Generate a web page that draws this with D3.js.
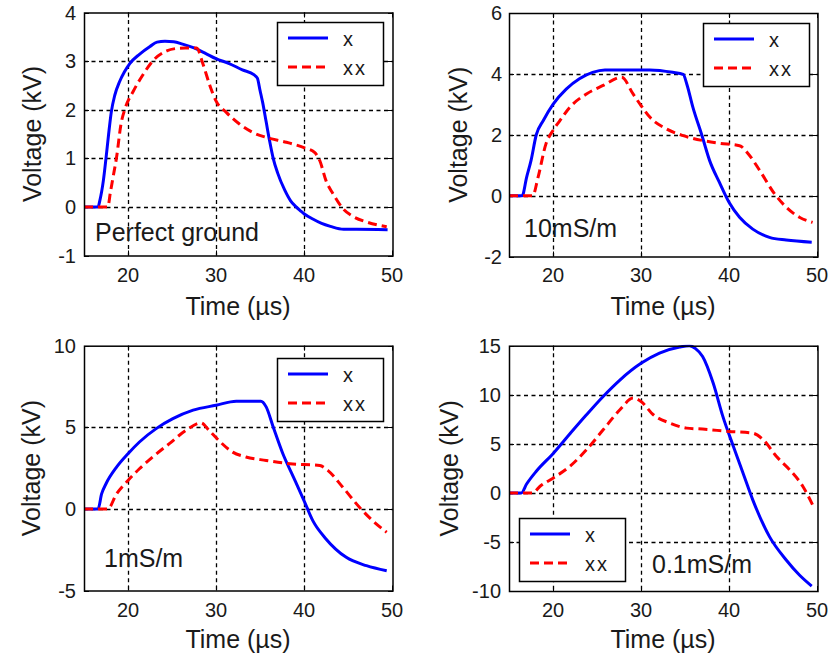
<!DOCTYPE html>
<html>
<head>
<meta charset="utf-8">
<script src="https://cdn.jsdelivr.net/npm/d3@7"></script>
<style>
  html, body { margin: 0; padding: 0; background: #fff; }
  svg { display: block; }
  text { font-family: "Liberation Sans", Arial, sans-serif; fill: #1a1a1a; }
</style>
</head>
<body>
<svg id="chart" width="840" height="657"></svg>
<script>
// ---------------- data ----------------
const seriesNames = ["x", "xx"];
const xTicks = [20, 30, 40, 50];
const xDomain = [15, 50];
const xLabel = "Time (µs)";
const yLabel = "Voltage (kV)";
const annotations = ["Perfect ground", "10mS/m", "1mS/m", "0.1mS/m"];

const yDomainP1 = [-1, 4];  const yTicksP1 = [-1, 0, 1, 2, 3, 4];
const yDomainP2 = [-2, 6];  const yTicksP2 = [-2, 0, 2, 4, 6];
const yDomainP3 = [-5, 10]; const yTicksP3 = [-5, 0, 5, 10];
const yDomainP4 = [-10, 15]; const yTicksP4 = [-10, -5, 0, 5, 10, 15];

// Panel 1: Perfect ground
const p1xT = [15, 16.6, 16.8, 17.2, 17.5, 17.8, 18.1, 18.5, 19.05, 19.6, 20.2, 21.3, 22.5, 23.3, 24.2, 25.2, 26.2, 27.5, 28.8, 30, 31.5, 33, 34.3, 34.7, 35.0, 35.3, 35.7, 36.1, 36.5, 37.0, 37.8, 38.5, 39.1, 39.6, 40, 41, 42, 43, 44.5, 46, 49.5];
const p1xV = [0, 0, 0.13, 0.54, 1.0, 1.5, 1.95, 2.3, 2.58, 2.78, 2.95, 3.14, 3.3, 3.39, 3.41, 3.4, 3.35, 3.27, 3.16, 3.05, 2.95, 2.82, 2.72, 2.65, 2.4, 2.15, 1.75, 1.35, 1.0, 0.7, 0.35, 0.12, 0.0, -0.08, -0.14, -0.25, -0.34, -0.4, -0.46, -0.46, -0.47];
const p1xxT = [15, 17.7, 18.0, 18.3, 18.7, 19.2, 19.7, 20.6, 21.7, 22.8, 24.4, 25.5, 26.5, 27.8, 28.5, 29.3, 30, 31.2, 32.7, 34.2, 35.7, 38, 40, 41.2, 41.8, 42.5, 43.3, 44.4, 45.6, 47.1, 49.4];
const p1xxV = [0, 0, 0.3, 0.61, 1.02, 1.7, 2.04, 2.38, 2.72, 3.0, 3.21, 3.26, 3.27, 3.27, 2.95, 2.5, 2.18, 1.94, 1.7, 1.53, 1.43, 1.33, 1.22, 1.12, 0.95, 0.54, 0.27, -0.03, -0.2, -0.31, -0.41];

// Panel 2: 10mS/m
const p2xT = [15, 16.5, 17, 17.5, 18.1, 18.9, 20, 21.5, 23, 24.5, 25.9, 31, 33.6, 34.8, 35.2, 35.9, 36.9, 37.8, 38.9, 40, 41.2, 42.7, 44.6, 46.5, 49.4];
const p2xV = [0, 0, 0.6, 1.15, 2.0, 2.47, 3.0, 3.5, 3.84, 4.05, 4.13, 4.13, 4.05, 3.98, 3.67, 2.9, 2.0, 1.15, 0.44, -0.22, -0.71, -1.1, -1.37, -1.46, -1.53];
const p2xxT = [15, 17.7, 18.3, 19.2, 20, 20.8, 21.9, 23.8, 25.7, 27.8, 29.1, 30, 31, 32.9, 34.8, 37, 38.9, 41.2, 42.2, 43.5, 45.2, 46.5, 48, 49.5];
const p2xxV = [0, 0, 0.6, 1.7, 2.14, 2.47, 2.9, 3.34, 3.62, 3.89, 3.34, 2.96, 2.58, 2.19, 1.97, 1.81, 1.72, 1.64, 1.37, 0.82, 0.05, -0.38, -0.71, -0.88];

// Panel 3: 1mS/m
const p3xT = [15, 16.6, 17, 17.5, 18.7, 20, 21.3, 23.2, 25.1, 27.4, 30, 32.3, 35.1, 35.7, 36.5, 37.6, 38.8, 40, 41, 42.5, 44.8, 47.1, 49.4];
const p3xV = [0, 0, 0.92, 1.54, 2.56, 3.38, 4.1, 4.92, 5.53, 6.05, 6.35, 6.6, 6.6, 6.25, 5.02, 3.38, 1.95, 0.51, -0.72, -1.84, -2.97, -3.48, -3.79];
const p3xxT = [15, 17.7, 18.7, 20, 21.3, 22.8, 24.7, 26.6, 28.3, 29.2, 30.3, 31.9, 33.4, 35.7, 38.4, 41.8, 42.7, 44.4, 46.3, 47.8, 49.4];
const p3xxV = [0, 0, 0.92, 1.74, 2.46, 3.18, 4.0, 4.82, 5.27, 4.82, 4.2, 3.48, 3.18, 2.97, 2.77, 2.66, 2.36, 1.33, 0.1, -0.72, -1.43];

// Panel 4: 0.1mS/m
const p4xT = [15, 16.4, 17, 18.1, 20, 21.9, 23.8, 25.7, 27.6, 30, 32.1, 34.4, 35.5, 36.2, 37, 38.2, 39.3, 40.5, 41.6, 42.7, 44.6, 46.5, 48, 49.4];
const p4xV = [0, 0, 0.9, 2.2, 4.0, 6.0, 7.96, 9.83, 11.5, 13.2, 14.25, 14.86, 15.0, 14.7, 13.9, 11.2, 7.8, 4.73, 2.0, -0.71, -4.46, -6.84, -8.37, -9.5];
const p4xxT = [15, 17.7, 18.5, 20, 21.9, 23.8, 25.7, 27.6, 29.1, 30, 31.4, 33.3, 35.2, 37, 40, 42.7, 43.9, 45.4, 46.9, 48.4, 49.5];
const p4xxV = [0, 0, 0.65, 1.5, 2.69, 4.39, 6.43, 8.47, 9.66, 9.32, 7.96, 7.11, 6.6, 6.5, 6.26, 6.09, 5.4, 3.7, 2.35, 0.65, -1.22];

// ---------------- layout (positions/styles) ----------------
const panels = [
  { left: 84, right: 392, top: 12.5, bottom: 255.5, yDomain: yDomainP1, yTicks: yTicksP1,
    series: [[p1xT, p1xV], [p1xxT, p1xxV]], annot: annotations[0],
    annotX: 95, annotY: 241, legX: 277, legY: 22, yLabX: 41, tickRight: 76, xTickBase: 282, xLabBase: 315 },
  { left: 509, right: 817, top: 13, bottom: 256.5, yDomain: yDomainP2, yTicks: yTicksP2,
    series: [[p2xT, p2xV], [p2xxT, p2xxV]], annot: annotations[1],
    annotX: 524, annotY: 237, legX: 703, legY: 23, yLabX: 467, tickRight: 502, xTickBase: 282, xLabBase: 315 },
  { left: 84, right: 392, top: 345.7, bottom: 590.5, yDomain: yDomainP3, yTicks: yTicksP3,
    series: [[p3xT, p3xV], [p3xxT, p3xxV]], annot: annotations[2],
    annotX: 104, annotY: 567, legX: 277, legY: 358, yLabX: 40, tickRight: 76, xTickBase: 617, xLabBase: 648 },
  { left: 509, right: 817, top: 345.7, bottom: 591, yDomain: yDomainP4, yTicks: yTicksP4,
    series: [[p4xT, p4xV], [p4xxT, p4xxV]], annot: annotations[3],
    annotX: 652, annotY: 573, legX: 519, legY: 518, yLabX: 458, tickRight: 501, xTickBase: 617, xLabBase: 648 }
];
const colors = ["#0000ff", "#ff0000"];
const dashes = [null, "9,5"];

const svg = d3.select("#chart");

panels.forEach((p, i) => {
  const x = d3.scaleLinear().domain(xDomain).range([p.left, p.right]);
  const y = d3.scaleLinear().domain(p.yDomain).range([p.bottom, p.top]);
  const g = svg.append("g");
  const boxRight = p.right + 1;

  // grid
  const gx = xTicks.filter(t => t > xDomain[0] && t < xDomain[1]);
  const gy = p.yTicks.filter(t => t > p.yDomain[0] && t < p.yDomain[1]);
  g.selectAll(".gx").data(gx).join("line")
    .attr("x1", d => Math.round(x(d)) + 0.5).attr("x2", d => Math.round(x(d)) + 0.5)
    .attr("y1", p.top).attr("y2", p.bottom)
    .attr("stroke", "#000").attr("stroke-width", 1.3).attr("stroke-dasharray", "4,3.5");
  g.selectAll(".gy").data(gy).join("line")
    .attr("x1", p.left).attr("x2", boxRight)
    .attr("y1", d => Math.round(y(d)) + 0.5).attr("y2", d => Math.round(y(d)) + 0.5)
    .attr("stroke", "#000").attr("stroke-width", 1.3).attr("stroke-dasharray", "4,3.5");

  // ticks (inside, all sides)
  const tl = 5;
  xTicks.forEach(t => {
    const xx = Math.round(x(t)) + 0.5;
    g.append("line").attr("x1", xx).attr("x2", xx).attr("y1", p.bottom).attr("y2", p.bottom - tl).attr("stroke", "#000");
    g.append("line").attr("x1", xx).attr("x2", xx).attr("y1", p.top).attr("y2", p.top + tl).attr("stroke", "#000");
  });
  p.yTicks.forEach(t => {
    const yy = Math.round(y(t)) + 0.5;
    g.append("line").attr("x1", p.left).attr("x2", p.left + tl).attr("y1", yy).attr("y2", yy).attr("stroke", "#000");
    g.append("line").attr("x1", boxRight).attr("x2", boxRight - tl).attr("y1", yy).attr("y2", yy).attr("stroke", "#000");
  });

  // annotation text
  g.append("text").attr("x", p.annotX).attr("y", p.annotY)
    .attr("font-size", 25).text(p.annot);

  // clip
  const clipId = "clip" + i;
  svg.append("clipPath").attr("id", clipId).append("rect")
    .attr("x", p.left).attr("y", p.top - 1).attr("width", p.right - p.left).attr("height", p.bottom - p.top + 1);

  // lines
  const line = d3.line().x(d => x(d[0])).y(d => y(d[1])).curve(d3.curveMonotoneX);
  p.series.forEach((s, k) => {
    const pts = s[0].map((t, j) => [t, s[1][j]]);
    g.append("path").datum(pts)
      .attr("clip-path", `url(#${clipId})`)
      .attr("fill", "none").attr("stroke", colors[k]).attr("stroke-width", 3)
      .attr("stroke-linejoin", "round")
      .attr("stroke-dasharray", dashes[k])
      .attr("d", line);
  });

  // frame
  g.append("rect").attr("x", p.left + 0.5).attr("y", p.top + 0.5)
    .attr("width", boxRight - p.left - 0.5).attr("height", p.bottom - p.top)
    .attr("fill", "none").attr("stroke", "#000").attr("stroke-width", 1.5);

  // tick labels
  xTicks.forEach(t => {
    g.append("text").attr("x", x(t)).attr("y", p.xTickBase).attr("text-anchor", "middle")
      .attr("font-size", 20).text(t);
  });
  p.yTicks.forEach(t => {
    g.append("text").attr("x", p.tickRight).attr("y", y(t)).attr("dy", "0.35em").attr("text-anchor", "end")
      .attr("font-size", 20).text(t);
  });

  // axis labels
  g.append("text").attr("x", (p.left + p.right) / 2).attr("y", p.xLabBase).attr("text-anchor", "middle")
    .attr("font-size", 25).text(xLabel);
  g.append("text").attr("transform", `translate(${p.yLabX},${(p.top + p.bottom) / 2}) rotate(-90)`)
    .attr("text-anchor", "middle").attr("font-size", 25).text(yLabel);

  // legend
  const lw = 106, lh = 63;
  const lg = g.append("g").attr("transform", `translate(${p.legX},${p.legY})`);
  lg.append("rect").attr("x", 0.5).attr("y", 0.5).attr("width", lw).attr("height", lh)
    .attr("fill", "#fff").attr("stroke", "#000").attr("stroke-width", 1.5);
  seriesNames.forEach((n, k) => {
    const ly = 16 + k * 29;
    lg.append("line").attr("x1", 11).attr("x2", 51).attr("y1", ly).attr("y2", ly)
      .attr("stroke", colors[k]).attr("stroke-width", 3).attr("stroke-dasharray", dashes[k]);
    lg.append("text").attr("x", 66).attr("y", ly + 8).attr("font-size", 20)
      .attr("letter-spacing", k === 1 ? 2 : 0).text(n);
  });
});
</script>
</body>
</html>
